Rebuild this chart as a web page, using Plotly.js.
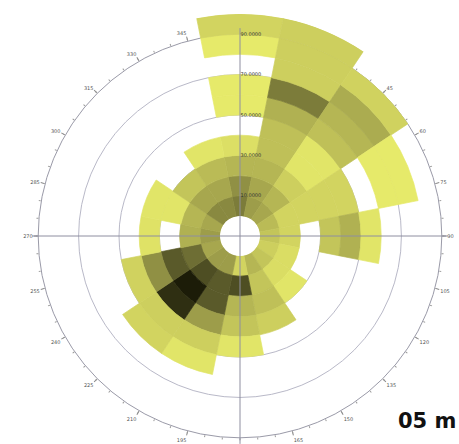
<!DOCTYPE html>
<html><head><meta charset="utf-8">
<script src="https://cdn.plot.ly/plotly-3.0.1.min.js"></script>
<style>
html,body{margin:0;padding:0;width:459px;height:444px;overflow:hidden;background:#fff}
#chart{position:absolute;left:18px;top:14px;width:444px;height:444px}
</style></head>
<body><div id="chart"></div>
<script>
// Directions (compass, degrees) and speed bins (cm/s, lower edges)
const directions = ['N','NNE','NE','ENE','E','ESE','SE','SSE','S','SSW','SW','WSW','W','WNW','NW','NNW'];
const dirAngles = [0,22.5,45,67.5,90,112.5,135,157.5,180,202.5,225,247.5,270,292.5,315,337.5];
const speedBins = [0,10,20,30,40,50,60,70,80,90];
const binWidth = 10;

// Relative occurrence per direction, one value per speed bin (0 = none)
const N   = [3.5, 3.2, 2.5, 1.4, 0,   1,   1,   0,   1,   1.8];
const NNE = [3.0, 2.8, 2.5, 2.3, 2.3, 2.6, 3.5, 2.0, 2.0, 2.0];
const NE  = [2.8, 2.5, 2.0, 1.2, 1.2, 2.3, 2.5, 2.7, 1.9, 0];
const ENE = [2.4, 1.8, 1.8, 1.8, 1.8, 0,   1.0, 1.0, 0,   0];
const E   = [2.2, 1.8, 0,   2.2, 2.6, 1.2, 0,   0,   0,   0];
const ESE = [2.0, 1.5, 0,   0,   0,   0,   0,   0,   0,   0];
const SE  = [2.2, 1.5, 1.2, 0,   0,   0,   0,   0,   0,   0];
const SSE = [2.5, 2.2, 2.3, 2.0, 0,   0,   0,   0,   0,   0];
const S   = [1.8, 4.2, 2.5, 2.2, 1.2, 0,   0,   0,   0,   0];
const SSW = [3.0, 4.0, 4.0, 3.0, 2.0, 1.2, 0,   0,   0,   0];
const SW  = [3.0, 4.2, 5.0, 4.7, 2.0, 1.8, 0,   0,   0,   0];
const WSW = [2.8, 3.7, 4.0, 3.2, 1.9, 0,   0,   0,   0,   0];
const W   = [3.0, 2.6, 0,   1.3, 0,   0,   0,   0,   0,   0];
const WNW = [2.8, 2.5, 1.2, 1.2, 0,   0,   0,   0,   0,   0];
const NW  = [3.3, 2.8, 2.2, 0,   0,   0,   0,   0,   0,   0];
const NNW = [3.3, 2.8, 2.4, 1.2, 0,   0,   0,   0,   0,   0];

const ringValues = [10,30,50,70,90];
const ringLabels = ['10.0000','30.0000','50.0000','70.0000','90.0000'];
const degreeTicks = [0,15,30,45,60,75,90,105,120,135,150,165,195,210,225,240,255,270,285,300,315,330,345];

const table = [N,NNE,NE,ENE,E,ESE,SE,SSE,S,SSW,SW,WSW,W,WNW,NW,NNW];
const th=[], rr=[], bb=[], cc=[];
table.forEach((row,i)=>row.forEach((v,k)=>{
  if(v>0){ th.push(dirAngles[i]); rr.push(binWidth); bb.push(speedBins[k]); cc.push(v); }
}));

const colorscale = [[0,'#e6ea6a'],[0.25,'#cdcf5e'],[0.5,'#9d9d4a'],[0.75,'#5a5a2a'],[1,'#1c1c08']];

const pxPerUnit = (222-20)/100;      // radial scale of the bar subplot
const ringR = 20 + 90*pxPerUnit;     // radius of the 90 ring
const crossR = 20 + 93*pxPerUnit;
const S0 = 444;
function dom(R){ return [0.5 - R/S0, 0.5 + R/S0]; }
const centerVal = -20/pxPerUnit;

const dummy = sp => ({type:'scatterpolar', subplot:sp, r:[0], theta:[0], mode:'markers',
  marker:{opacity:0}, hoverinfo:'skip', showlegend:false});

const data = [
  dummy('polar'), dummy('polar2'),
  {type:'barpolar', subplot:'polar3', theta:th, r:rr, base:bb, width:22.5,
   marker:{color:cc, colorscale:colorscale, cmin:1, cmax:5,
     line:{width:0.7, color:cc, colorscale:colorscale, cmin:1, cmax:5}},
   hoverinfo:'skip', showlegend:false},
  dummy('polar4')
];

const common = {rotation:90, direction:'clockwise'};
const layout = {
  width:444, height:444, margin:{l:0,r:0,t:0,b:0},
  paper_bgcolor:'#fff', showlegend:false,
  font:{family:'DejaVu Sans', size:5, color:'#555'},
  polar:{
    domain:{x:dom(ringR), y:dom(ringR)}, bgcolor:'rgba(0,0,0,0)',
    radialaxis:{range:[centerVal,90], tickvals:ringValues.slice(0,4), showticklabels:false,
      ticks:'', showline:false, gridcolor:'#b9b9c8', gridwidth:1},
    angularaxis:Object.assign({tickvals:degreeTicks, ticksuffix:'°', showgrid:false, showline:true, linecolor:'#9a9aa8',
      ticks:'outside', ticklen:4, tickcolor:'#888', tickfont:{size:5, color:'#555'}}, common)
  },
  polar2:{
    domain:{x:dom(ringR), y:dom(ringR)}, bgcolor:'rgba(0,0,0,0)',
    radialaxis:{visible:false, range:[centerVal,90]},
    angularaxis:Object.assign({dtick:5, showgrid:false, showline:false, ticks:'outside',
      ticklen:2, tickcolor:'#999', showticklabels:false}, common)
  },
  polar3:{
    domain:{x:[0,1], y:[0,1]}, hole:20/222, bgcolor:'rgba(0,0,0,0)',
    radialaxis:{visible:false, range:[0,100]},
    angularaxis:Object.assign({visible:false}, common)
  },
  polar4:{
    domain:{x:dom(crossR), y:dom(crossR)}, bgcolor:'rgba(0,0,0,0)',
    radialaxis:{range:[centerVal,93], angle:90, tickangle:90, tickvals:ringValues, ticktext:ringLabels,
      showline:false, showgrid:false, ticks:'', tickfont:{size:5, color:'#333'}},
    angularaxis:Object.assign({tickvals:[0,90,180,270], showgrid:true, gridcolor:'#8e8ea0',
      gridwidth:1, showticklabels:false, ticks:'', showline:false}, common)
  },
  annotations:[{text:'<b>05 m</b>', xref:'paper', yref:'paper', x:(397-18)/444, y:1-(421-14)/444,
    xanchor:'left', yanchor:'middle', showarrow:false, borderpad:0,
    font:{family:'DejaVu Sans', size:21, color:'#111'}}]
};

Plotly.newPlot('chart', data, layout, {staticPlot:true});
</script></body></html>
